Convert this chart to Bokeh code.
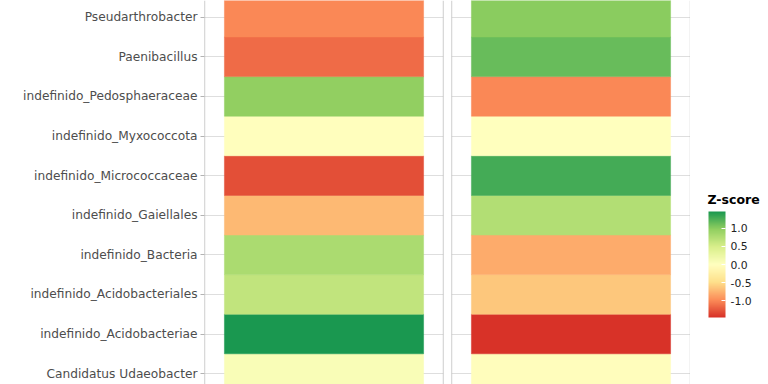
from bokeh.plotting import figure
from bokeh.layouts import row
from bokeh.models import (ColumnDataSource, LinearColorMapper, ColorBar, FixedTicker,
                          PrintfTickFormatter, Range1d, Span, Label)
from bokeh.transform import transform
from bokeh.embed import file_html
from bokeh.resources import INLINE

# ---------------- data (rows listed bottom to top) ----------------
taxa = ["Candidatus Udaeobacter", "indefinido_Acidobacteriae", "indefinido_Acidobacteriales",
        "indefinido_Bacteria", "indefinido_Gaiellales", "indefinido_Micrococcaceae",
        "indefinido_Myxococcota", "indefinido_Pedosphaeraceae", "Paenibacillus",
        "Pseudarthrobacter"]
z_panel1 = [0.08, 1.47, 0.65, 0.80, -0.72, -1.30, -0.02, 0.97, -1.15, -1.00]
z_panel2 = [-0.03, -1.45, -0.64, -0.80, 0.75, 1.29, 0.00, -1.00, 1.14, 1.00]
z_low, z_high = -1.47, 1.47
legend_ticks = [-1.0, -0.5, 0.0, 0.5, 1.0]
legend_title = "Z-score"

# ---------------- palette (RdYlGn, 7 anchors, interpolated) ----------------
anchors = ["#d73027", "#fc8d59", "#fee08b", "#ffffbf", "#d9ef8b", "#91cf60", "#1a9850"]
def hex2rgb(h):
    return [int(h[i:i + 2], 16) for i in (1, 3, 5)]
def make_palette(cols, n=256):
    rgb = [hex2rgb(c) for c in cols]
    out = []
    for k in range(n):
        t = k / (n - 1) * (len(rgb) - 1)
        i = min(int(t), len(rgb) - 2)
        f = t - i
        c = [round(rgb[i][j] + (rgb[i + 1][j] - rgb[i][j]) * f) for j in range(3)]
        out.append("#%02x%02x%02x" % tuple(c))
    return out
palette = make_palette(anchors)
mapper = LinearColorMapper(palette=palette, low=z_low, high=z_high)

ypos = list(range(len(taxa)))
y_start, y_end = -0.275, 9.422
FONT = "DejaVu Sans"
H = 384
FRAME_W = 239

def panel(values, left_border, right_border, show_axis):
    src = ColumnDataSource(dict(x=[0] * len(taxa), y=ypos, z=values))
    w = FRAME_W + left_border + right_border
    p = figure(width=w, height=H, x_range=Range1d(-0.6, 0.6), y_range=Range1d(y_start, y_end),
               output_backend="svg", toolbar_location=None,
               x_axis_location=None, y_axis_location="left" if show_axis else None,
               min_border_left=left_border, min_border_right=right_border,
               min_border_top=0, min_border_bottom=0)
    p.outline_line_color = None
    p.background_fill_color = "white"
    p.border_fill_color = "white"
    p.xgrid.visible = False
    p.ygrid.ticker = FixedTicker(ticks=ypos)
    p.ygrid.grid_line_color = "#dedede"
    p.ygrid.grid_line_width = 1
    if show_axis:
        ax = p.yaxis[0]
        ax.ticker = FixedTicker(ticks=ypos)
        ax.major_label_overrides = {i: t for i, t in zip(ypos, taxa)}
        ax.major_label_text_font = FONT
        ax.major_label_text_font_size = "12.2px"
        ax.major_label_text_color = "#4d4d4d"
        ax.major_label_standoff = 3
        ax.axis_line_color = None
        ax.major_tick_line_color = "#b3b3b3"
        ax.major_tick_out = 4
        ax.major_tick_in = 0
        ax.minor_tick_line_color = None
    p.rect(x="x", y="y", width=1, height=1, source=src,
           fill_color=transform("z", mapper), line_color=transform("z", mapper), line_width=0.5)
    for loc in (-0.6, 0.6):
        p.add_layout(Span(location=loc, dimension="height", line_color="#b3b3b3", line_width=1.3))
    return p

p1 = panel(z_panel1, 204, 4, True)
p2 = panel(z_panel2, 4, 0, False)

p3 = figure(width=768 - p1.width - p2.width, height=H, x_range=Range1d(0, 1), y_range=Range1d(0, 1),
            output_backend="svg", toolbar_location=None, x_axis_location=None, y_axis_location=None,
            min_border=0)
p3.outline_line_color = None
p3.xgrid.visible = False
p3.ygrid.visible = False

cb = ColorBar(color_mapper=mapper, location=(18, 67), orientation="vertical",
              width=17, height=106, padding=0, margin=0,
              ticker=FixedTicker(ticks=legend_ticks), formatter=PrintfTickFormatter(format="%.1f"),
              major_label_text_font=FONT, major_label_text_font_size="10.8px",
              major_label_text_color="#222222", label_standoff=5,
              major_tick_line_color="white", major_tick_in=4, major_tick_out=0,
              minor_tick_line_color=None, bar_line_color=None, border_line_color=None,
              background_fill_color=None)
p3.add_layout(cb, "center")
p3.add_layout(Label(x=17, y=H - 199, x_units="screen", y_units="screen", text=legend_title,
                    text_font=FONT, text_font_size="12.5px", text_font_style="bold",
                    text_color="black", text_align="left", text_baseline="middle"))

layout = row(p1, p2, p3)
open("out.html", "w").write(file_html(layout, INLINE))
